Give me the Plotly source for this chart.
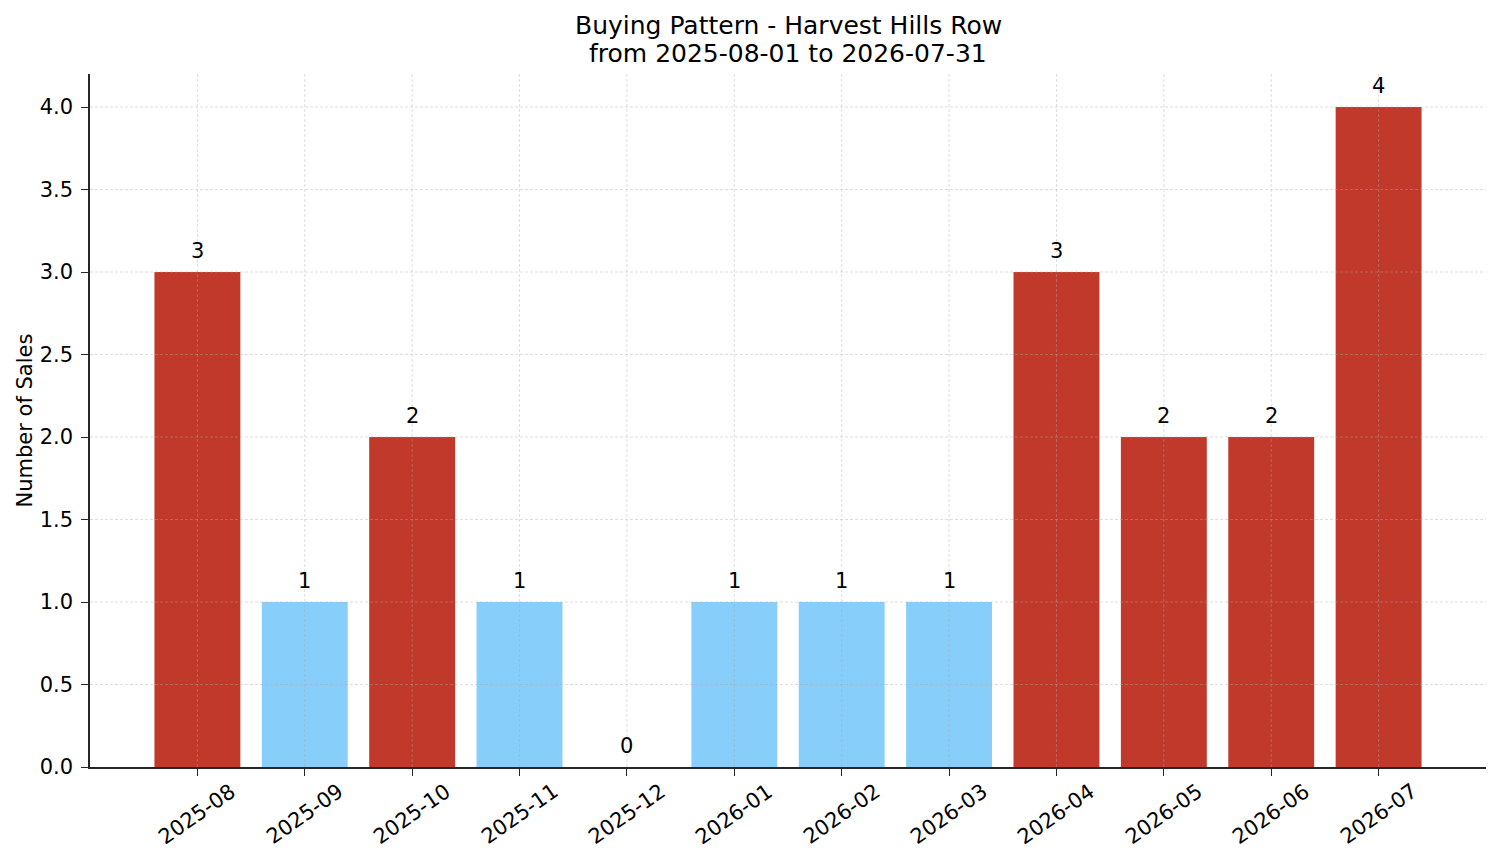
import plotly.graph_objects as go

months = ["2025-08", "2025-09", "2025-10", "2025-11", "2025-12", "2026-01",
          "2026-02", "2026-03", "2026-04", "2026-05", "2026-06", "2026-07"]
sales = [3, 1, 2, 1, 0, 1, 1, 1, 3, 2, 2, 4]
y_ticks = [0.0, 0.5, 1.0, 1.5, 2.0, 2.5, 3.0, 3.5, 4.0]

RED = "#C0392B"
BLUE = "#87CEFA"
FONT = "DejaVu Sans"
FS = 21
avg = sum(sales) / len(sales)
colors = [RED if v > avg else BLUE for v in sales]
xs = list(range(len(months)))

fig = go.Figure()
fig.add_trace(go.Bar(x=xs, y=sales, marker=dict(color=colors, line=dict(width=0)),
                     width=0.8, hoverinfo="skip"))

shapes = []
grid_line = dict(color="rgba(170,170,170,0.5)", width=0.8, dash="3px,2px")
for i in xs:
    shapes.append(dict(type="line", xref="x", yref="paper", x0=i, x1=i, y0=0, y1=1,
                       line=grid_line, layer="above"))
for t in y_ticks[1:]:
    shapes.append(dict(type="line", xref="paper", yref="y", x0=0, x1=1, y0=t, y1=t,
                       line=grid_line, layer="above"))

annotations = []
for i, v in zip(xs, sales):
    annotations.append(dict(x=i, y=v, xref="x", yref="y", text=str(v), showarrow=False,
                            yanchor="middle", yshift=21,
                            font=dict(family=FONT, size=FS, color="black")))
for i, m in zip(xs, months):
    annotations.append(dict(x=i, y=0, xref="x", yref="paper", text=m, showarrow=False,
                            xanchor="center", yanchor="middle", yshift=-47, textangle=-35,
                            font=dict(family=FONT, size=FS, color="black")))
annotations.append(dict(x=0.5, y=1, xref="paper", yref="paper",
                        text="Buying Pattern - Harvest Hills Row", showarrow=False,
                        yanchor="middle", yshift=49,
                        font=dict(family=FONT, size=25, color="black")))
annotations.append(dict(x=0.5, y=1, xref="paper", yref="paper",
                        text="from 2025-08-01 to 2026-07-31", showarrow=False,
                        yanchor="middle", yshift=21,
                        font=dict(family=FONT, size=25, color="black")))
annotations.append(dict(x=0, y=0.5, xref="paper", yref="paper", text="Number of Sales",
                        showarrow=False, textangle=-90, xanchor="center", yanchor="middle",
                        xshift=-66, font=dict(family=FONT, size=FS, color="black")))

fig.update_layout(
    width=1493, height=855,
    margin=dict(l=82, r=15, t=66, b=96),
    paper_bgcolor="white", plot_bgcolor="white",
    showlegend=False,
    font=dict(family=FONT, size=FS, color="black"),
    xaxis=dict(range=[-1, len(months)], tickvals=xs, showticklabels=False,
               showgrid=False, zeroline=False, showline=True, linecolor="#262626",
               linewidth=1.5, ticks="outside", ticklen=7, tickwidth=1.3,
               tickcolor="#262626", fixedrange=True),
    yaxis=dict(range=[0, 4.2], tickvals=y_ticks, tickformat=".1f",
               showgrid=False, zeroline=False, showline=True, linecolor="#262626",
               linewidth=1.5, ticks="outside", ticklen=7, tickwidth=1.3,
               tickcolor="#262626", ticklabelstandoff=4,
               tickfont=dict(family=FONT, size=FS, color="black"), fixedrange=True),
    shapes=shapes,
    annotations=annotations,
)

fig.write_html("out.html")
